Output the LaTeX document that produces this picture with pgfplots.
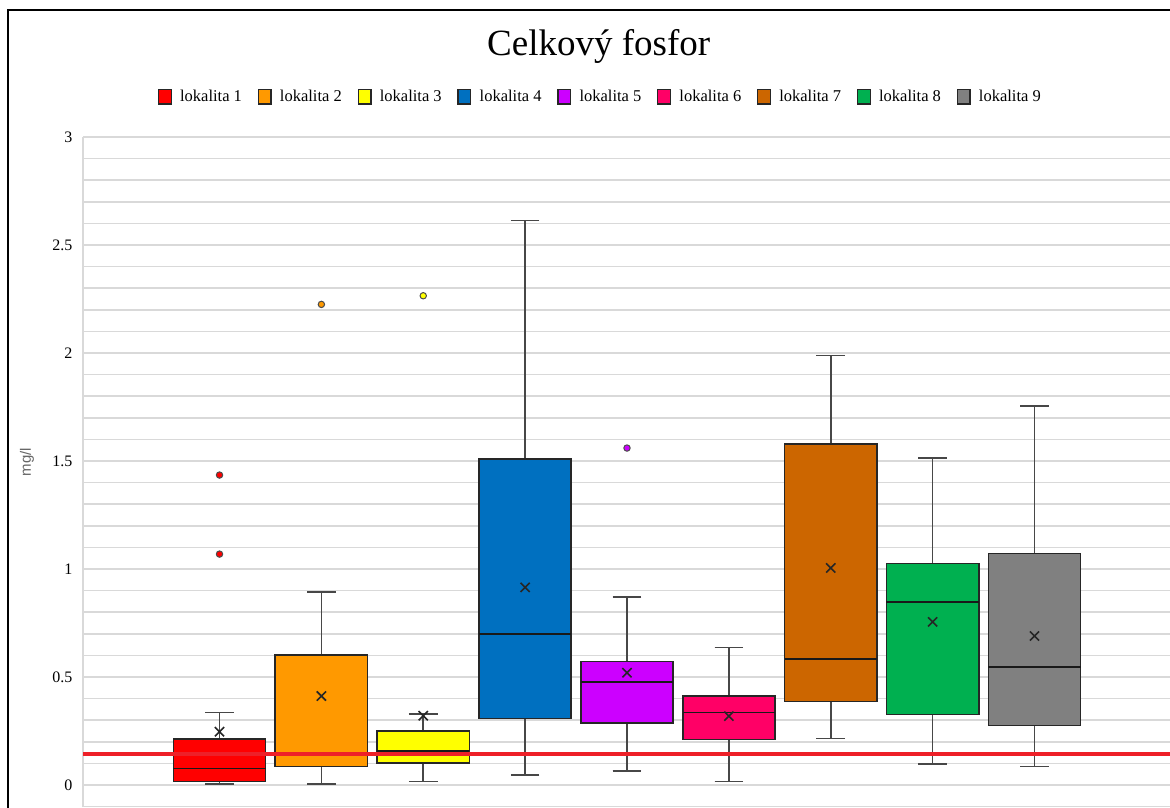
\documentclass[border=0pt]{standalone}
\usepackage{pgfplots}
\pgfplotsset{compat=1.18}
\usepgfplotslibrary{statistics}
\usepackage{fontspec}
\setmainfont{Liberation Serif}
\newfontfamily\sansf{Liberation Sans}
\definecolor{c1}{HTML}{FF0000}
\definecolor{c2}{HTML}{FF9900}
\definecolor{c3}{HTML}{FFFF00}
\definecolor{c4}{HTML}{0070C0}
\definecolor{c5}{HTML}{CC00FF}
\definecolor{c6}{HTML}{FF0066}
\definecolor{c7}{HTML}{CC6600}
\definecolor{c8}{HTML}{00B050}
\definecolor{c9}{HTML}{808080}
\definecolor{gridc}{HTML}{D9D9D9}
\definecolor{limitc}{HTML}{EE2028}
\pgfplotsset{
  mybox/.style n args={8}{
    boxplot prepared={draw direction=y, draw position=#1, lower whisker=#2, lower quartile=#3, median=#4,
      upper quartile=#5, upper whisker=#6, average=#7,
      box extend=0.906, whisker extend=0.28,
      every whisker/.style={draw=black!72, line width=1.6pt},
      every box/.style={draw=black!85, line width=1.6pt},
      every median/.style={draw=black!90, line width=1.6pt},
      every average/.style={/tikz/mark=x, /tikz/mark size=6.5pt, draw=black!80, line width=1.4pt, solid}},
    fill=#8, draw=black!85, line width=1.6pt, forget plot,
    mark=*, mark size=3.2pt, mark options={fill=#8, draw=black!70, line width=1pt}
  }
}
\begin{document}
\begin{tikzpicture}
\useasboundingbox (0pt,0pt) rectangle (1170pt,807pt);
\fill[white] (0pt,0pt) rectangle (1170pt,807pt);
\draw[line width=2pt, black] (8.3pt,-10pt) -- (8.3pt,796.5pt) -- (1250pt,796.5pt);
\begin{axis}[
  at={(83pt,0pt)}, anchor=south west,
  scale only axis, width=1088pt, height=670pt,
  xmin=-0.34, xmax=10.34, ymin=-0.10185, ymax=3,
  axis x line=none,
  axis y line*=left,
  y axis line style={-, draw=gridc, line width=1.5pt},
  ytick={0,0.5,1,1.5,2,2.5,3},
  minor ytick={-0.1,0.1,0.2,0.3,0.4,0.6,0.7,0.8,0.9,1.1,1.2,1.3,1.4,1.6,1.7,1.8,1.9,2.1,2.2,2.3,2.4,2.6,2.7,2.8,2.9},
  ymajorgrids, yminorgrids,
  major grid style={draw=gridc, line width=1.5pt},
  minor grid style={draw=gridc, line width=1.5pt},
  major tick length=0pt, minor tick length=0pt,
  ytick style={draw=none},
  /pgf/number format/assume math mode=true,
  yticklabel style={font=\fontsize{16}{16}\selectfont, anchor=east, xshift=-7pt},
  legend columns=9,
  legend image code/.code={\draw[#1] (0pt,-7.35pt) rectangle (12.7pt,7.35pt);},
  legend style={at={(0.4755,1.0601)}, anchor=center, draw=none, fill=none,
    font=\fontsize{16.5}{18}\selectfont, inner sep=0pt,
    /tikz/every odd column/.append style={column sep=6.3pt},
    /tikz/every even column/.append style={column sep=13.7pt}},
]
\addplot[mybox={1}{0.005}{0.017}{0.077}{0.214}{0.335}{0.247}{c1}] coordinates {(1,1.435) (1,1.069)};
\addplot[mybox={2}{0.005}{0.085}{0.142}{0.603}{0.894}{0.412}{c2}] coordinates {(2,2.225)};
\addplot[mybox={3}{0.017}{0.103}{0.157}{0.250}{0.329}{0.321}{c3}] coordinates {(3,2.265)};
\addplot[mybox={4}{0.045}{0.307}{0.699}{1.508}{2.614}{0.915}{c4}] coordinates {};
\addplot[mybox={5}{0.065}{0.288}{0.478}{0.571}{0.869}{0.520}{c5}] coordinates {(5,1.560)};
\addplot[mybox={6}{0.017}{0.211}{0.335}{0.412}{0.637}{0.319}{c6}] coordinates {};
\addplot[mybox={7}{0.216}{0.387}{0.583}{1.579}{1.989}{1.005}{c7}] coordinates {};
\addplot[mybox={8}{0.097}{0.327}{0.847}{1.026}{1.514}{0.755}{c8}] coordinates {};
\addplot[mybox={9}{0.085}{0.275}{0.545}{1.071}{1.756}{0.690}{c9}] coordinates {};
\addplot[draw=limitc, line width=4pt, forget plot] coordinates {(-0.34,0.142) (10.34,0.142)};
\addlegendimage{fill=c1, draw=black!85, line width=1.3pt}\addlegendentry{lokalita 1}
\addlegendimage{fill=c2, draw=black!85, line width=1.3pt}\addlegendentry{lokalita 2}
\addlegendimage{fill=c3, draw=black!85, line width=1.3pt}\addlegendentry{lokalita 3}
\addlegendimage{fill=c4, draw=black!85, line width=1.3pt}\addlegendentry{lokalita 4}
\addlegendimage{fill=c5, draw=black!85, line width=1.3pt}\addlegendentry{lokalita 5}
\addlegendimage{fill=c6, draw=black!85, line width=1.3pt}\addlegendentry{lokalita 6}
\addlegendimage{fill=c7, draw=black!85, line width=1.3pt}\addlegendentry{lokalita 7}
\addlegendimage{fill=c8, draw=black!85, line width=1.3pt}\addlegendentry{lokalita 8}
\addlegendimage{fill=c9, draw=black!85, line width=1.3pt}\addlegendentry{lokalita 9}
\end{axis}
\node[anchor=base, font=\fontsize{37}{40}\selectfont] at (598.7pt,751.3pt) {Celkový fosfor};
\node[rotate=90, font=\sansf\fontsize{15}{15}\selectfont, text=black!60] at (27pt,345pt) {mg/l};
\end{tikzpicture}
\end{document}
